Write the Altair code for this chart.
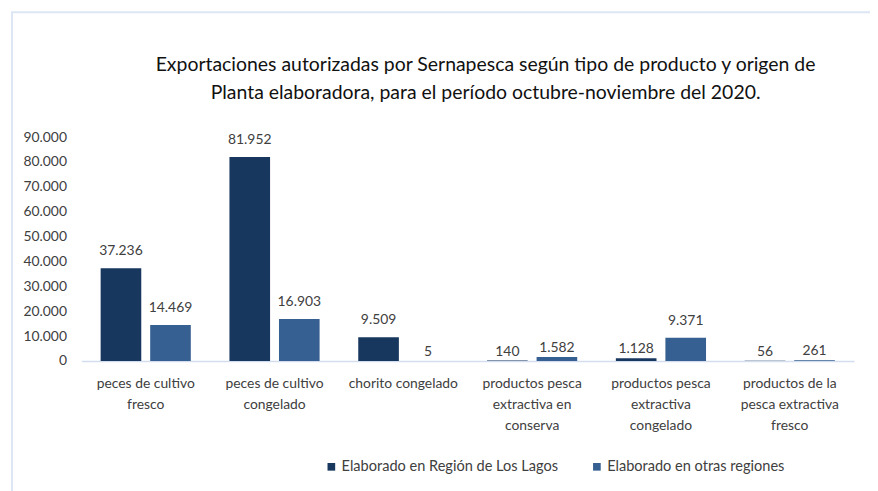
import json
import altair as alt
import pandas as pd

# ---- data ----
categories = [
    "peces de cultivo fresco",
    "peces de cultivo congelado",
    "chorito congelado",
    "productos pesca extractiva en conserva",
    "productos pesca extractiva congelado",
    "productos de la pesca extractiva fresco",
]
category_lines = [
    ["peces de cultivo", "fresco"],
    ["peces de cultivo", "congelado"],
    ["chorito congelado"],
    ["productos pesca", "extractiva en", "conserva"],
    ["productos pesca", "extractiva", "congelado"],
    ["productos de la", "pesca extractiva", "fresco"],
]
series = ["Elaborado en Región de Los Lagos", "Elaborado en otras regiones"]
los_lagos = [37236, 81952, 9509, 140, 1128, 56]
otras_regiones = [14469, 16903, 5, 1582, 9371, 261]
y_ticks = [0, 10000, 20000, 30000, 40000, 50000, 60000, 70000, 80000, 90000]
colors = ["#17375e", "#376092"]
title_lines = [
    "Exportaciones autorizadas por Sernapesca según tipo de producto y origen de",
    "Planta elaboradora, para el período octubre-noviembre del 2020.",
]

rows = []
for c, a, b in zip(categories, los_lagos, otras_regiones):
    rows.append({"cat": c, "serie": series[0], "valor": a})
    rows.append({"cat": c, "serie": series[1], "valor": b})
df = pd.DataFrame(rows)

label_expr = ""
for c, lines in zip(categories, category_lines):
    label_expr += f"datum.label == {json.dumps(c)} ? {json.dumps(lines)} : "
label_expr += "datum.label"

FONT = "Lato"
TEXT = "#404040"

x = alt.X(
    "cat:N",
    sort=categories,
    scale=alt.Scale(paddingInner=0, paddingOuter=0),
    axis=alt.Axis(
        title=None,
        labelAngle=0,
        labelExpr=label_expr,
        ticks=False,
        domainColor="#d3ddee",
        domainWidth=1.5,
        labelPadding=16,
        labelFontSize=14,
        labelLineHeight=21,
        labelLimit=300,
        labelColor=TEXT,
        labelFont=FONT,
        labelBaseline="top",
    ),
)
xo = alt.XOffset(
    "serie:N",
    sort=series,
    scale=alt.Scale(paddingInner=0.18, paddingOuter=0.39),
)
y = alt.Y(
    "valor:Q",
    scale=alt.Scale(domain=[0, 90000], nice=False, zero=True),
    axis=alt.Axis(
        title=None,
        values=y_ticks,
        format=",d",
        grid=False,
        domain=False,
        ticks=False,
        labelPadding=15,
        labelFontSize=14,
        labelColor=TEXT,
        labelFont=FONT,
    ),
)
color = alt.Color(
    "serie:N",
    sort=series,
    scale=alt.Scale(domain=series, range=colors),
    legend=alt.Legend(
        title=None,
        orient="none",
        direction="horizontal",
        legendX=245,
        legendY=325,
        symbolType="square",
        symbolSize=60,
        symbolStrokeWidth=0,
        labelFontSize=14.7,
        labelFont=FONT,
        labelColor=TEXT,
        labelLimit=400,
        columnPadding=31,
        labelOffset=3,
    ),
)

base = alt.Chart(df)
bars = base.mark_bar().encode(x=x, xOffset=xo, y=y, color=color)
labels_big = (
    base.transform_filter("datum.valor >= 5000")
    .mark_text(dy=-17, baseline="middle", fontSize=14, font=FONT, color=TEXT)
    .encode(x=x, xOffset=xo, y=y, text=alt.Text("valor:Q", format=",d"))
)
labels_small = (
    base.transform_filter("datum.valor < 5000")
    .mark_text(dy=-9, baseline="middle", fontSize=14, font=FONT, color=TEXT)
    .encode(x=x, xOffset=xo, y=y, text=alt.Text("valor:Q", format=",d"))
)
border = (
    alt.Chart(pd.DataFrame({"k": [0]}))
    .mark_rect(fillOpacity=0, stroke="#dce6f4", strokeWidth=2)
    .encode(x=alt.value(-70), x2=alt.value(900), y=alt.value(-126), y2=alt.value(500))
)

chart = (
    alt.layer(border, bars, labels_big, labels_small)
    .properties(
        width=780,
        height=226,
        autosize=alt.AutoSizeParams(type="none"),
        padding={"left": 74, "top": 128, "right": 16, "bottom": 129},
        title=alt.Title(
            text=title_lines,
            font=FONT,
            fontSize=19.6,
            fontWeight="normal",
            color="#111111",
            lineHeight=28,
            anchor="middle",
            frame="group",
            dx=18,
            offset=-93,
        ),
    )
    .configure(
        locale=alt.Locale(
            number=alt.NumberLocale(
                decimal=",", thousands=".", grouping=[3], currency=["$", ""]
            )
        )
    )
    .configure_view(stroke=None)
)

chart.save("out.html", embed_options={"renderer": "svg", "actions": False})
